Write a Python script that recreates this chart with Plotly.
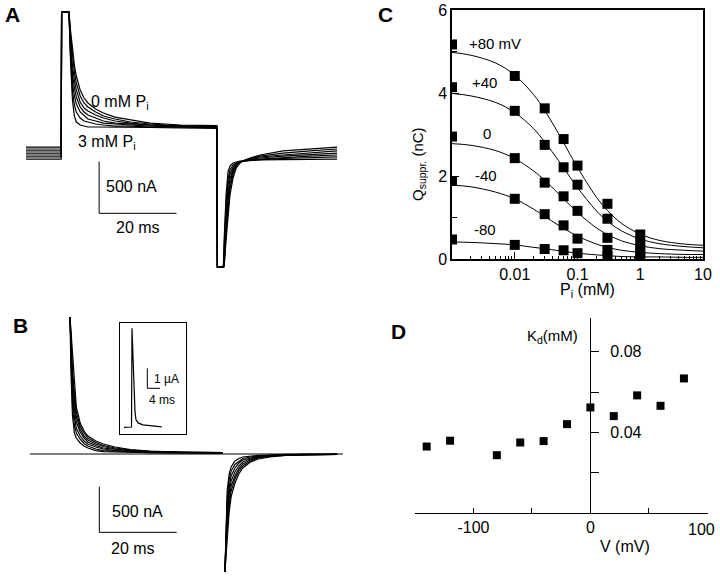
import plotly.graph_objects as go

W, H = 720, 576
FONT = "Liberation Sans, Arial, Helvetica, sans-serif"

# ---------------- Panel A data (time in ms, current in nA) ----------------
A_TIME = [0, 9.1, 9.2, 11.1, 11.5, 12, 12.5, 13, 14, 15, 16, 18, 20, 23, 27, 32, 40, 49.3,
          49.45, 51.0, 51.2, 51.7, 52.2, 52.7, 53.5, 54.3, 55.3, 56.6, 57.9, 60.5, 66.4, 73.4, 80.4]
A_BASE = [77, 58, 39, 19, 0, -19, -39]
A_CLIP_TOP = 1383
A_CLIP_BOTTOM = -1083
A_ON = [
    [1383, 1209, 1015, 870, 764, 629, 551, 503, 445, 406, 367, 338, 309, 290, 285],
    [1383, 1160, 938, 803, 696, 571, 503, 464, 416, 377, 348, 319, 300, 280, 280],
    [1383, 1112, 861, 725, 629, 513, 454, 425, 387, 358, 329, 309, 290, 280, 276],
    [1383, 1064, 783, 648, 561, 464, 416, 387, 358, 329, 309, 300, 290, 280, 271],
    [1383, 1015, 706, 571, 493, 416, 377, 348, 329, 309, 300, 290, 280, 271, 266],
    [1383, 967, 619, 484, 416, 358, 329, 319, 300, 290, 280, 280, 271, 271, 262],
    [1383, 919, 532, 377, 319, 290, 280, 271, 271, 271, 271, 271, 266, 262, 257],
]
A_OFF = [
    [-1083, -822, -580, -387, -222, -126, -77, -48, -29, 0, 39, 58, 77],
    [-1064, -754, -503, -329, -184, -106, -68, -48, -34, -10, 19, 39, 58],
    [-1035, -687, -435, -280, -155, -97, -68, -48, -39, -19, 0, 19, 39],
    [-996, -619, -367, -232, -135, -87, -68, -53, -44, -29, -10, 5, 19],
    [-957, -551, -300, -184, -116, -82, -68, -58, -48, -39, -24, -10, 0],
    [-890, -464, -232, -145, -97, -77, -63, -58, -48, -44, -34, -29, -19],
    [-822, -387, -164, -106, -77, -68, -58, -58, -53, -48, -44, -39, -39],
]

# ---------------- Panel B data ----------------
B_TIME_ON = [11.37, 11.6, 12, 12.5, 13, 14, 15, 16, 18, 20, 23, 27, 32, 40, 50.9]
B_TIME_OFF = [51.4, 51.7, 52.0, 52.5, 53, 54, 55, 56, 58, 60, 63, 67, 72, 80.4]
B_ON = [
    [1502, 1359, 1030, 756, 515, 340, 252, 197, 142, 110, 77, 49, 33, 22, 16],
    [1502, 1282, 932, 669, 460, 307, 230, 175, 126, 93, 66, 44, 27, 22, 16],
    [1502, 1217, 833, 581, 406, 274, 197, 153, 110, 82, 55, 38, 27, 16, 16],
    [1502, 1140, 734, 493, 351, 241, 175, 132, 93, 66, 49, 33, 22, 16, 11],
    [1502, 1063, 636, 406, 285, 197, 142, 110, 77, 55, 38, 27, 22, 16, 11],
    [1502, 997, 537, 318, 230, 164, 115, 88, 55, 38, 33, 22, 16, 11, 11],
    [1502, 921, 427, 230, 175, 121, 88, 66, 38, 27, 22, 16, 16, 11, 11],
]
B_OFF = [
    [-1293, -1107, -888, -636, -471, -318, -219, -153, -88, -55, -33, -16, -11, -5],
    [-1293, -1041, -800, -570, -406, -274, -186, -132, -77, -44, -27, -16, -11, -5],
    [-1293, -975, -701, -493, -351, -241, -159, -110, -66, -38, -22, -11, -11, -5],
    [-1293, -921, -636, -427, -296, -197, -132, -88, -55, -33, -22, -11, -5, -5],
    [-1293, -855, -559, -362, -241, -153, -99, -66, -44, -27, -16, -11, -5, -5],
    [-1293, -789, -471, -285, -186, -115, -77, -49, -33, -22, -16, -5, -5, -5],
    [-1293, -723, -395, -219, -142, -77, -49, -33, -22, -16, -11, -5, -5, -5],
]
B_ZERO_T = [1.0, 81.9]
B_ZERO_I = [0, 0]

# inset (ms, uA)
INSET_T = [0, 2.37, 2.52, 2.84, 3.15, 3.47, 3.79, 4.42, 5.99, 8.2, 11.9]
INSET_I = [0, 0.015, 4.95, 3.37, 1.62, 0.77, 0.37, 0.22, 0.12, 0.07, 0.02]

# scale bars
SCALE_NA = 500
SCALE_MS = 20
INSET_SCALE_UA = 1
INSET_SCALE_MS = 4

# ---------------- Panel C data ----------------
PI_CONC = [0.001, 0.01, 0.03, 0.06, 0.1, 0.3, 1.0]
Q_SERIES = {
    "+80 mV": [5.17, 4.41, 3.63, 2.89, 2.25, 1.33, 0.59],
    "+40": [4.14, 3.57, 2.75, 2.21, 1.79, 0.97, 0.39],
    "0": [2.95, 2.43, 1.84, 1.51, 1.16, 0.51, 0.26],
    "-40": [1.88, 1.45, 1.08, 0.81, 0.49, 0.22, 0.14],
    "-80": [0.47, 0.34, 0.24, 0.21, 0.14, 0.06, 0.05],
}
FIT_P = [0.001, 0.002, 0.005, 0.01, 0.02, 0.03, 0.05, 0.07, 0.1, 0.2, 0.3, 0.5, 1, 2, 5, 10]
FIT_Q = {
    "+80 mV": [4.98, 4.91, 4.72, 4.43, 3.96, 3.58, 3.02, 2.62, 2.21, 1.49, 1.17, 0.86, 0.60, 0.45, 0.36, 0.33],
    "+40": [3.99, 3.93, 3.77, 3.53, 3.14, 2.82, 2.37, 2.05, 1.72, 1.16, 0.91, 0.68, 0.48, 0.37, 0.30, 0.27],
    "0": [2.78, 2.74, 2.61, 2.42, 2.12, 1.90, 1.57, 1.35, 1.12, 0.75, 0.59, 0.44, 0.32, 0.25, 0.21, 0.19],
    "-40": [1.78, 1.74, 1.61, 1.45, 1.20, 1.03, 0.81, 0.68, 0.55, 0.36, 0.28, 0.21, 0.16, 0.13, 0.11, 0.11],
    "-80": [0.41, 0.40, 0.37, 0.34, 0.28, 0.25, 0.20, 0.17, 0.14, 0.10, 0.08, 0.06, 0.05, 0.05, 0.04, 0.04],
}
C_XTICKS = [0.01, 0.1, 1, 10]
C_XTICKTEXT = ["0.01", "0.1", "1", "10"]

# ---------------- Panel D data ----------------
V_MV = [-140, -120, -80, -60, -40, -20, 0, 20, 40, 60, 80]
KD_MM = [0.033, 0.0359, 0.0287, 0.035, 0.0357, 0.0441, 0.0524, 0.0481, 0.0584, 0.0532, 0.0668]
D_XTICKS = [-100, 0]
D_XTICKTEXT = ["-100", "0"]
D_LAST_XLABEL = "100"
D_YTICKS = [0.04, 0.08]
D_YTICKTEXT = ["0.04", "0.08"]


def fx(px):
    return px / W


def fy(py):
    return 1 - py / H


fig = go.Figure()
line = dict(color="black", width=1.2)
thin = dict(color="black", width=1)

# Panel A traces
for base, on, off in zip(A_BASE, A_ON, A_OFF):
    yv = [base, base, A_CLIP_TOP] + on + [A_CLIP_BOTTOM, A_CLIP_BOTTOM] + off
    fig.add_trace(go.Scatter(x=A_TIME, y=yv, mode="lines", line=line, xaxis="x", yaxis="y",
                             hoverinfo="skip", showlegend=False))
# scale bar A
A_SB_T, A_SB_I = 18.9, -564
fig.add_trace(go.Scatter(x=[A_SB_T, A_SB_T, A_SB_T + SCALE_MS], y=[A_SB_I + SCALE_NA, A_SB_I, A_SB_I],
                         mode="lines", line=thin, xaxis="x", yaxis="y", showlegend=False, hoverinfo="skip"))

# Panel B traces
fig.add_trace(go.Scatter(x=B_ZERO_T, y=B_ZERO_I, mode="lines", line=thin,
                         xaxis="x2", yaxis="y2", showlegend=False, hoverinfo="skip"))
for on, off in zip(B_ON, B_OFF):
    fig.add_trace(go.Scatter(x=B_TIME_ON + [None] + B_TIME_OFF, y=on + [None] + off, mode="lines",
                             line=line, xaxis="x2", yaxis="y2", connectgaps=False,
                             showlegend=False, hoverinfo="skip"))
B_SB_T, B_SB_I = 18.94, -859
fig.add_trace(go.Scatter(x=[B_SB_T, B_SB_T, B_SB_T + SCALE_MS], y=[B_SB_I + SCALE_NA, B_SB_I, B_SB_I],
                         mode="lines", line=thin, xaxis="x2", yaxis="y2", showlegend=False, hoverinfo="skip"))

# inset
fig.add_trace(go.Scatter(x=INSET_T, y=INSET_I, mode="lines", line=dict(color="black", width=1.2),
                         xaxis="x3", yaxis="y3", showlegend=False, hoverinfo="skip"))
IN_SB_T, IN_SB_I = 7.35, 1.95
fig.add_trace(go.Scatter(x=[IN_SB_T, IN_SB_T, IN_SB_T + INSET_SCALE_MS],
                         y=[IN_SB_I + INSET_SCALE_UA, IN_SB_I, IN_SB_I],
                         mode="lines", line=thin, xaxis="x3", yaxis="y3", showlegend=False, hoverinfo="skip"))

# Panel C
for name in Q_SERIES:
    fig.add_trace(go.Scatter(x=FIT_P, y=FIT_Q[name], mode="lines", line=dict(color="black", width=1, shape="spline"),
                             xaxis="x4", yaxis="y4", showlegend=False, hoverinfo="skip"))
for name, vals in Q_SERIES.items():
    fig.add_trace(go.Scatter(x=PI_CONC, y=vals, mode="markers", name=name,
                             marker=dict(symbol="square", size=10, color="black"),
                             xaxis="x4", yaxis="y4", showlegend=False))

# Panel D
fig.add_trace(go.Scatter(x=V_MV, y=KD_MM, mode="markers", marker=dict(symbol="square", size=8, color="black"),
                         xaxis="x5", yaxis="y5", showlegend=False, cliponaxis=False))

hidden = dict(visible=False, fixedrange=True)
axis_font = dict(family=FONT, size=16, color="black")

fig.update_layout(
    width=W, height=H, margin=dict(l=0, r=0, t=0, b=0, autoexpand=False),
    paper_bgcolor="white", plot_bgcolor="rgba(0,0,0,0)",
    font=dict(family=FONT, color="black"),
    xaxis=dict(domain=[fx(20), fx(345)], range=[-1.55, 82.43], anchor="y", **hidden),
    yaxis=dict(domain=[fy(275), fy(5)], range=[-1160.5, 1450.7], anchor="x", **hidden),
    xaxis2=dict(domain=[fx(20), fx(345)], range=[-1.55, 82.43], anchor="y2", **hidden),
    yaxis2=dict(domain=[fy(576), fy(300)], range=[-1337.7, 1688.6], anchor="x2", **hidden),
    xaxis3=dict(domain=[fx(120), fx(186)], range=[-1.262, 19.56], anchor="y3", showline=True, mirror=True,
                linecolor="black", linewidth=1.2, showticklabels=False, ticks="", showgrid=False,
                zeroline=False, fixedrange=True),
    yaxis3=dict(domain=[fy(434), fy(323)], range=[-0.335, 5.215], anchor="x3", showline=True, mirror=True,
                linecolor="black", linewidth=1.2, showticklabels=False, ticks="", showgrid=False,
                zeroline=False, fixedrange=True),
    xaxis4=dict(domain=[fx(452), fx(703)], type="log", range=[-3, 1], anchor="y4",
                showline=True, mirror=True, linecolor="black", linewidth=1.5, showgrid=False, zeroline=False,
                tickmode="array", tickvals=C_XTICKS, ticktext=C_XTICKTEXT, ticks="inside", ticklen=7,
                tickcolor="black", tickfont=axis_font, ticklabeloverflow="allow",
                minor=dict(dtick="D1", ticks="inside", ticklen=3, tickcolor="black", showgrid=False)),
    yaxis4=dict(domain=[fy(259), fy(10)], range=[0, 6], anchor="x4",
                showline=True, mirror=True, linecolor="black", linewidth=1.5, showgrid=False, zeroline=False,
                tickmode="array", tickvals=[0, 2, 4, 6], ticks="inside", ticklen=7, tickcolor="black",
                tickfont=axis_font, ticklabeloverflow="allow",
                minor=dict(dtick=1, ticks="inside", ticklen=5, tickcolor="black", showgrid=False)),
    xaxis5=dict(domain=[fx(415), fx(708)], range=[-150, 100.6], anchor="y5",
                showline=True, linecolor="black", linewidth=1.3, showgrid=False, zeroline=False,
                tickmode="array", tickvals=D_XTICKS, ticktext=D_XTICKTEXT, ticks="inside", ticklen=5,
                tickcolor="black", tickwidth=1.3, tickfont=axis_font, ticklabeloverflow="allow",
                minor=dict(tick0=0, dtick=50, ticks="inside", ticklen=5, tickcolor="black", tickwidth=1.3,
                           showgrid=False)),
    yaxis5=dict(domain=[fy(513), fy(318)], range=[0, 0.0968], anchor="free", position=fx(590), side="right",
                showline=True, linecolor="black", linewidth=1.3, showgrid=False, zeroline=False,
                tickmode="array", tickvals=D_YTICKS, ticktext=D_YTICKTEXT,
                ticks="outside", ticklen=8, tickcolor="black", tickwidth=1.3, tickfont=axis_font,
                ticklabelstandoff=8,
                minor=dict(tick0=0, dtick=0.02, ticks="outside", ticklen=8, tickcolor="black", tickwidth=1.3,
                           showgrid=False)),
)


def label(text, x, y, size=16, bold=False, xanchor="center"):
    fig.add_annotation(text=f"<b>{text}</b>" if bold else text, x=fx(x), y=fy(y), xref="paper", yref="paper",
                       showarrow=False, xanchor=xanchor, yanchor="middle",
                       font=dict(family=FONT, size=size, color="black"))


# panel letters
label("A", 12, 15, 21, True)
label("B", 20, 325, 21, True)
label("C", 385, 15, 21, True)
label("D", 398, 331, 21, True)

# A texts
label("0 mM P<sub>i</sub>", 120, 102)
label("3 mM P<sub>i</sub>", 107, 142)
label("500 nA", 131, 186)
label("20 ms", 137.5, 227.5)
# B texts
label("500 nA", 137.5, 511.5)
label("20 ms", 133.3, 548)
label("1 µA", 151.5, 379, 12, xanchor="left")
label("4 ms", 147.3, 400, 12, xanchor="left")

# C texts
label("+80 mV", 495, 43, 15)
label("+40", 484, 82, 15)
label("0", 487, 133, 15)
label("-40", 486, 175, 15)
label("-80", 485, 229, 15)
fig.add_annotation(text="Q<sub>suppr.</sub> (nC)", x=fx(419), y=fy(125), xref="paper", yref="paper",
                   showarrow=False, textangle=-90, font=dict(family=FONT, size=15, color="black"))
label("P<sub>i</sub> (mM)", 587, 290, 16)

# D texts
label(D_LAST_XLABEL, 701, 529, 16)
label("K<sub>d</sub>(mM)", 580, 336, 15, xanchor="right")
label("V (mV)", 625, 546, 16)

fig.write_html("out.html", config={"displayModeBar": False},
               post_script="document.body.style.margin='0px';document.body.style.overflow='hidden';")
